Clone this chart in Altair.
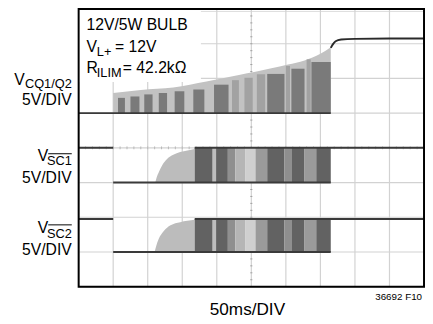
import altair as alt
import pandas as pd

# ---------------- data (time in ms, 50 ms/div; vertical in divisions, 8 div) -------------
grid_t = [50, 100, 150, 200, 250, 300, 350, 400, 450]
grid_v = [1, 2, 3, 4, 5, 6, 7]

# V_CQ1/Q2 trace
cq_low = 5.0
cq_env_t = [50, 90, 137, 185, 232, 256, 279, 303, 327, 350, 365]
cq_env_v = [5.58, 5.67, 5.74, 5.91, 6.10, 6.19, 6.29, 6.40, 6.52, 6.71, 6.90]
cq_on_t = [365, 368, 372, 380, 400, 450, 500]
cq_on_v = [6.88, 6.98, 7.07, 7.12, 7.14, 7.15, 7.15]
cq_dark_t0 = [57, 75, 95, 116, 139, 166, 196, 273, 308, 337]
cq_dark_t1 = [67, 88, 107, 128, 153, 182, 217, 298, 327, 365]
cq_dark_top = [5.44, 5.48, 5.54, 5.58, 5.63, 5.68, 5.82, 6.13, 6.28, 6.47]
cq_mid_t0 = [222, 240, 258, 300, 330]
cq_mid_t1 = [232, 252, 270, 306, 336]
cq_mid_top = [5.95, 6.02, 6.12, 6.36, 6.55]

# V_SC1 / V_SC2 traces
sc1_low, sc1_high = 3.0, 4.0
sc2_low, sc2_high = 1.0, 1.95
sc1_ramp_t = [111, 113, 116, 121, 128, 137, 147, 161, 168]
sc1_ramp_v = [3.00, 3.15, 3.30, 3.50, 3.68, 3.80, 3.88, 3.94, 3.97]
sc2_ramp_t = [110, 112, 116, 123, 133, 147, 168]
sc2_ramp_v = [1.00, 1.15, 1.38, 1.60, 1.77, 1.86, 1.93]
pwm_start, pwm_dense, pwm_end = 50, 168, 365
sc_stripe_t0 = [168, 194, 199, 216, 227, 241, 256, 273, 298, 308, 327, 344]
sc_stripe_t1 = [194, 199, 216, 227, 241, 256, 273, 298, 308, 327, 344, 365]
sc_stripe_shade = ["#626262", "#bdbdbd", "#626262", "#8f8f8f", "#b5b5b5", "#cfcfcf",
                   "#9a9a9a", "#626262", "#8f8f8f", "#626262", "#9a9a9a", "#626262"]

# ---------------- scales ----------------
xs = alt.Scale(domain=[0, 500], nice=False, zero=False)
ys = alt.Scale(domain=[0, 281 / 35.375], nice=False, zero=False)


def X(f):
    return alt.X(f, type="quantitative", scale=xs, axis=None)


def Y(f):
    return alt.Y(f, type="quantitative", scale=ys, axis=None)


one = pd.DataFrame({"a": [0]})
layers = []
GRID = "#d2d2d2"

# graticule
layers.append(alt.Chart(pd.DataFrame({"t": grid_t, "y0": 0, "y1": 8})).mark_rule(
    color=GRID, strokeWidth=1.2).encode(x=X("t"), y=Y("y0"), y2="y1"))
layers.append(alt.Chart(pd.DataFrame({"v": grid_v, "t0": 0, "t1": 500})).mark_rule(
    color=GRID, strokeWidth=1.2).encode(x=X("t0"), x2="t1", y=Y("v")))
# centre minor ticks
minor_v = [i * 0.2 for i in range(1, 40)]
minor_t = [i * 10 for i in range(1, 50)]
layers.append(alt.Chart(pd.DataFrame({"v": minor_v, "a": 248.5, "b": 251.5})).mark_rule(
    color="#a0a0a0", strokeWidth=1).encode(x=X("a"), x2="b", y=Y("v")))
layers.append(alt.Chart(pd.DataFrame({"t": minor_t, "a": 3.96, "b": 4.04})).mark_rule(
    color="#b8b8b8", strokeWidth=1).encode(x=X("t"), y=Y("a"), y2="b"))

# white box behind the annotation text
layers.append(alt.Chart(pd.DataFrame({"t0": [0], "t1": [177], "v0": [5.9], "v1": [8]})).mark_rect(
    color="white").encode(x=X("t0"), x2="t1", y=Y("v0"), y2="v1"))

# CQ PWM envelope (light) and darker stripes
cq_env = pd.DataFrame({"t": cq_env_t, "v": cq_env_v, "lo": cq_low})
layers.append(alt.Chart(cq_env).mark_area(color="#c2c2c2", interpolate="monotone").encode(
    x=X("t"), y=Y("v"), y2="lo"))
cq_mid = pd.DataFrame({"t0": cq_mid_t0, "t1": cq_mid_t1, "top": cq_mid_top, "lo": cq_low})
layers.append(alt.Chart(cq_mid).mark_rect(color="#a2a2a2").encode(
    x=X("t0"), x2="t1", y=Y("top"), y2="lo"))
cq_dark = pd.DataFrame({"t0": cq_dark_t0, "t1": cq_dark_t1, "top": cq_dark_top, "lo": cq_low})
layers.append(alt.Chart(cq_dark).mark_rect(color="#7a7a7a").encode(
    x=X("t0"), x2="t1", y=Y("top"), y2="lo"))

# SC ramps and dense stripes
for rt, rv, lo, hi in [(sc1_ramp_t, sc1_ramp_v, sc1_low, sc1_high),
                       (sc2_ramp_t, sc2_ramp_v, sc2_low, sc2_high)]:
    layers.append(alt.Chart(pd.DataFrame({"t": rt, "v": rv, "lo": lo})).mark_area(
        color="#bcbcbc", interpolate="monotone").encode(x=X("t"), y=Y("v"), y2="lo"))
    st = pd.DataFrame({"t0": sc_stripe_t0, "t1": sc_stripe_t1, "c": sc_stripe_shade,
                       "lo": lo, "hi": hi})
    layers.append(alt.Chart(st).mark_rect().encode(
        x=X("t0"), x2="t1", y=Y("lo"), y2="hi", color=alt.Color("c:N", scale=None)))

# trace lines
seg = pd.DataFrame({
    "t0": [0, 0, pwm_start, pwm_dense, 0, pwm_start, pwm_dense],
    "t1": [pwm_end, pwm_start, pwm_end, 500, pwm_start, pwm_end, 500],
    "v": [cq_low, sc1_high, sc1_low, sc1_high, sc2_high, sc2_low, sc2_high],
})
layers.append(alt.Chart(seg).mark_rule(color="#3a3a3a", strokeWidth=2).encode(
    x=X("t0"), x2="t1", y=Y("v")))
layers.append(alt.Chart(pd.DataFrame({"t": cq_on_t, "v": cq_on_v})).mark_line(
    color="#2a2a2a", strokeWidth=2, interpolate="monotone").encode(x=X("t"), y=Y("v")))

# frame
layers.append(alt.Chart(pd.DataFrame({"t0": [0], "t1": [500], "v0": [0], "v1": [8]})).mark_rect(
    filled=False, stroke="black", strokeWidth=2).encode(x=X("t0"), x2="t1", y=Y("v0"), y2="v1"))

# ---------------- text ----------------
MAIN = "Liberation Sans, Arial, Helvetica"


def txt(s, x, y, size, align="left"):
    return alt.Chart(one).mark_text(text=s, font=MAIN, fontSize=size, align=align,
                                    baseline="alphabetic", color="black").encode(
        x=alt.value(x), y=alt.value(y))


def overline(x0, x1, y):
    return alt.Chart(one).mark_rule(color="black", strokeWidth=1).encode(
        x=alt.value(x0), x2=alt.value(x1), y=alt.value(y))


layers += [
    txt("12V/5W BULB", 8, 19.7, 16),
    txt("V", 8, 42, 16), txt("L+", 18.5, 46, 13), txt("= 12V", 37, 42, 16),
    txt("R", 8, 63, 16), txt("ILIM", 18.5, 67.7, 13), txt("= 42.2kΩ", 45, 63, 16),
    txt("V", -55, 75, 16, "right"), txt("CQ1/Q2", -7, 78.5, 13, "right"),
    txt("5V/DIV", -7, 96, 16, "right"),
    txt("V", -31, 153, 16, "right"), txt("SC1", -7, 157, 13, "right"),
    overline(-31, -7, 145.5), txt("5V/DIV", -7, 175, 16, "right"),
    txt("V", -31, 226, 16, "right"), txt("SC2", -7, 231, 13, "right"),
    overline(-31, -7, 218), txt("5V/DIV", -7, 249, 16, "right"),
    txt("50ms/DIV", 172, 310, 17.5, "center"),
    txt("36692 F10", 350, 295, 10, "right"),
]

chart = alt.layer(*layers).properties(
    width=352, height=281,
    autosize=alt.AutoSizeParams(type="none"),
    padding={"left": 72, "top": 0, "right": 1, "bottom": 35},
).configure_view(stroke=None).configure(background="white")

chart.save("out.html", embed_options={"renderer": "svg", "actions": False})
